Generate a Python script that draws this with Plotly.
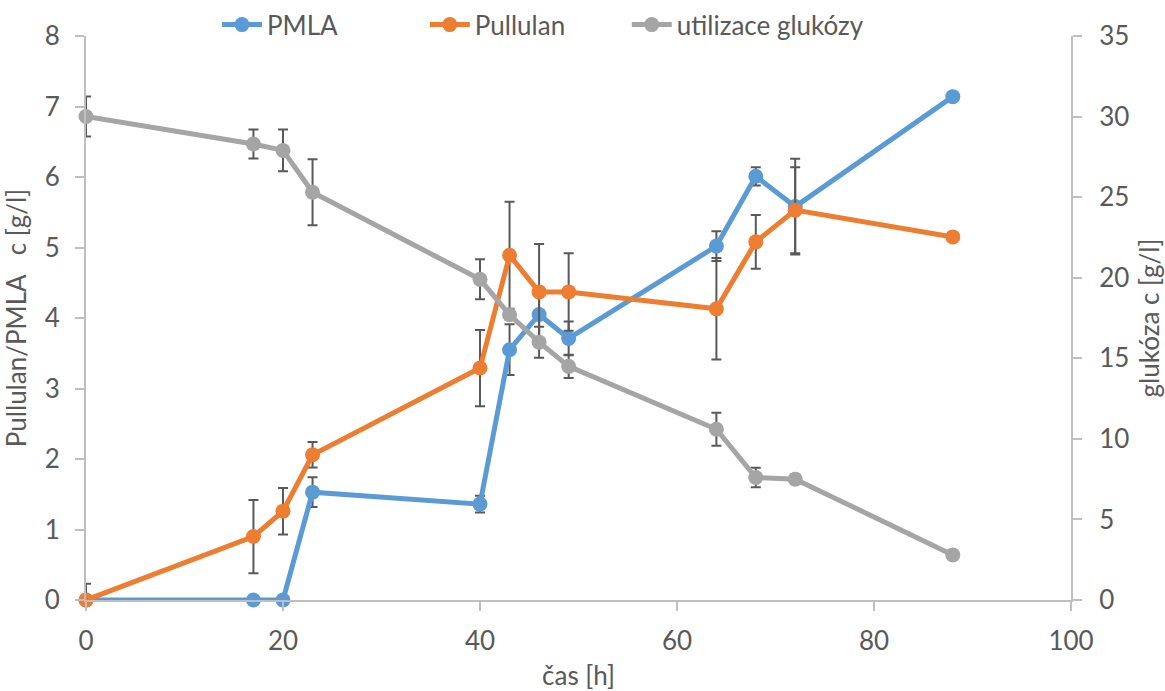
import plotly.graph_objects as go

time_h = [0, 17, 20, 23, 40, 43, 46, 49, 64, 68, 72, 88]

pmla = [0, 0, 0, 1.53, 1.36, 3.55, 4.05, 3.71, 5.02, 6.01, 5.58, 7.14]
pmla_err = [0, 0, 0, 0.21, 0.12, 0.36, 0.38, 0.24, 0.21, 0.13, 0.68, 0]

pullulan = [0, 0.90, 1.26, 2.06, 3.29, 4.89, 4.37, 4.37, 4.13, 5.08, 5.53, 5.15]
pullulan_err = [0.23, 0.52, 0.33, 0.18, 0.54, 0.76, 0.68, 0.55, 0.72, 0.38, 0.61, 0]

glukoza = [30.0, 28.3, 27.9, 25.3, 19.9, 17.7, 16.0, 14.5, 10.6, 7.6, 7.5, 2.8]
glukoza_err = [1.24, 0.9, 1.3, 2.05, 1.24, 0.3, 0.96, 0.72, 1.02, 0.6, 0.3, 0]

x_ticks = [0, 20, 40, 60, 80, 100]
y_ticks = [0, 1, 2, 3, 4, 5, 6, 7, 8]
y2_ticks = [0, 5, 10, 15, 20, 25, 30, 35]

BLUE = "#5B9BD5"
ORANGE = "#ED7D31"
GRAY = "#A5A5A5"
ERR = "#595959"
TXT = "#595959"
AX = "#BFBFBF"
FONT = "Lato"
TICK_SIZE = 26
TITLE_SIZE = 26


def err(vals):
    return dict(type="data", array=vals, visible=True, color=ERR,
                thickness=2, width=5)


fig = go.Figure()
fig.add_trace(go.Scatter(
    x=time_h, y=pmla, name="PMLA", mode="lines+markers",
    line=dict(color=BLUE, width=5), marker=dict(color=BLUE, size=15),
    error_y=err(pmla_err), cliponaxis=False, legend="legend"))
fig.add_trace(go.Scatter(
    x=time_h, y=pullulan, name="Pullulan", mode="lines+markers",
    line=dict(color=ORANGE, width=5), marker=dict(color=ORANGE, size=15),
    error_y=err(pullulan_err), cliponaxis=False, legend="legend2"))
fig.add_trace(go.Scatter(
    x=time_h, y=glukoza, name="utilizace glukózy", mode="lines+markers",
    line=dict(color=GRAY, width=5), marker=dict(color=GRAY, size=15),
    error_y=err(glukoza_err), yaxis="y2", cliponaxis=False, legend="legend3"))

axis_common = dict(
    showgrid=False, zeroline=False, showline=True, linecolor=AX, linewidth=2,
    ticks="outside", ticklen=9, tickwidth=2, tickcolor=AX,
    tickfont=dict(family=FONT, size=TICK_SIZE, color=TXT),
    automargin=False,
)


def leg(xpos):
    return dict(orientation="h", x=xpos, xanchor="left", y=1.02,
                yanchor="middle", font=dict(family=FONT, size=TICK_SIZE, color=TXT),
                bgcolor="rgba(0,0,0,0)", itemwidth=40)


fig.update_layout(
    width=1165, height=691,
    margin=dict(l=86, r=94, t=36, b=91, autoexpand=False),
    paper_bgcolor="white", plot_bgcolor="white",
    font=dict(family=FONT, color=TXT),
    showlegend=True,
    legend=leg(0.133),
    legend2=leg(0.344),
    legend3=leg(0.549),
    xaxis=dict(range=[0, 100], tickvals=x_ticks, ticklabelstandoff=8, **axis_common,
               title=dict(text="čas [h]", font=dict(family=FONT, size=TITLE_SIZE, color=TXT),
                          standoff=16)),
    yaxis=dict(range=[0, 8], tickvals=y_ticks, ticklabelstandoff=10, **axis_common,
               title=dict(text="Pullulan/PMLA   c [g/l]",
                          font=dict(family=FONT, size=TITLE_SIZE, color=TXT), standoff=14)),
    yaxis2=dict(range=[0, 35], tickvals=y2_ticks, overlaying="y", side="right",
                ticklabelstandoff=12, **axis_common,
                title=dict(text="glukóza c [g/l]",
                           font=dict(family=FONT, size=TITLE_SIZE, color=TXT), standoff=14)),
)

fig.write_html("out.html")
